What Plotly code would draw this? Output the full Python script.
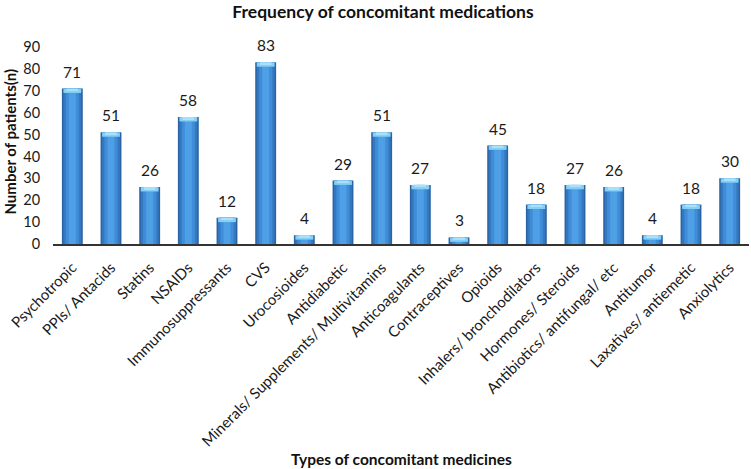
import plotly.graph_objects as go

categories = ["Psychotropic", "PPIs/ Antacids", "Statins", "NSAIDs", "Immunosuppressants",
              "CVS", "Urocosioides", "Antidiabetic", "Minerals/ Supplements/ Multivitamins",
              "Anticoagulants", "Contraceptives", "Opioids", "Inhalers/ bronchodilators",
              "Hormones/ Steroids", "Antibiotics/ antifungal/ etc", "Antitumor",
              "Laxatives/ antiemetic", "Anxiolytics"]
values = [71, 51, 26, 58, 12, 83, 4, 29, 51, 27, 3, 45, 18, 27, 26, 4, 18, 30]
y_ticks = [0, 10, 20, 30, 40, 50, 60, 70, 80, 90]

FONT = "Lato, 'Open Sans', sans-serif"

fig = go.Figure()
# layered bars to imitate the shaded cylinder look
layers = [(0.54, "#2a64a4"), (0.46, "#3479c0"), (0.34, "#3f8dd8"), (0.18, "#4f9fe6")]
for w, c in layers:
    fig.add_trace(go.Bar(x=categories, y=values, width=w, marker=dict(color=c, line=dict(width=0)),
                         hoverinfo="skip", showlegend=False))
# light cap at top
cap = [2.0 if v > 2.0 else v for v in values]
fig.add_trace(go.Bar(x=categories, y=cap, base=[v - c for v, c in zip(values, cap)], width=0.46,
                     marker=dict(color="#86cff5", line=dict(width=0)), hoverinfo="skip", showlegend=False))
fig.add_trace(go.Bar(x=categories, y=[c * 0.45 for c in cap],
                     base=[v - c * 0.45 for v, c in zip(values, cap)], width=0.3,
                     marker=dict(color="#a9e0fa", line=dict(width=0)), hoverinfo="skip", showlegend=False))

# value labels
value_annotations = [
    dict(x=c, y=v, xref="x", yref="y", text=str(v), showarrow=False, yanchor="bottom",
         yshift=6, font=dict(family=FONT, size=15.5, color="#1a1a1a"))
    for c, v in zip(categories, values)
]

fig.update_layout(
    width=751, height=469, barmode="overlay",
    margin=dict(l=53, r=2, t=47, b=225),
    plot_bgcolor="white", paper_bgcolor="white",
    font=dict(family=FONT, color="#1a1a1a"),
    title=dict(text="<b>Frequency of concomitant medications</b>", x=0.51, xanchor="center",
               y=0.974, yanchor="middle", font=dict(family=FONT, size=17.5, color="#111")),
    xaxis=dict(tickangle=-45, showline=True, linecolor="#333", linewidth=2,
               ticks="outside", ticklen=7, tickcolor="rgba(255,255,255,0)",
               tickfont=dict(family=FONT, size=15, color="#1a1a1a"), showgrid=False,
               automargin=False, range=[-0.5, len(categories) - 0.5]),
    yaxis=dict(range=[0, 90], tickvals=y_ticks, showgrid=False, zeroline=False, showline=False,
               automargin=False, ticks="outside", ticklen=9, tickcolor="rgba(255,255,255,0)",
               tickfont=dict(family=FONT, size=14.5, color="#1a1a1a")),
    annotations=value_annotations + [
        dict(text="<b>Types of concomitant medicines</b>", xref="paper", yref="paper",
             x=0.5, y=-1.09, yanchor="middle", showarrow=False,
             font=dict(family=FONT, size=15.5, color="#111")),
        dict(text="<b>Number of patients(n)</b>", xref="paper", yref="paper",
             x=-0.0618, y=0.52, textangle=-90, showarrow=False, xanchor="center", yanchor="middle",
             font=dict(family=FONT, size=15, color="#111")),
    ],
)
fig.write_html("out.html", config={"displayModeBar": False},
               post_script="document.body.style.margin='0';document.body.style.padding='0';")
